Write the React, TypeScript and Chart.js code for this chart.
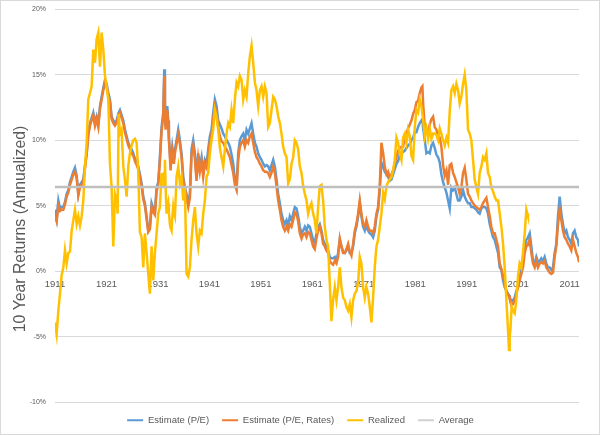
import React, { useEffect, useRef } from "react";
import { Chart, registerables } from "chart.js";

Chart.register(...registerables);

// Fractional year of each reading
const years = [
  1911.00, 1911.32, 1911.65, 1911.97, 1912.29, 1912.62, 1912.94, 1913.27, 1913.59, 1913.91,
  1914.24, 1914.56, 1914.88, 1915.21, 1915.53, 1915.85, 1916.18, 1916.50, 1916.83, 1917.15,
  1917.47, 1917.80, 1918.12, 1918.44, 1918.77, 1919.09, 1919.41, 1919.74, 1920.06, 1920.39,
  1920.71, 1921.03, 1921.36, 1921.68, 1922.00, 1922.33, 1922.65, 1922.97, 1923.17, 1923.36,
  1923.62, 1923.94, 1924.27, 1924.59, 1924.92, 1925.24, 1925.56, 1925.89, 1926.21, 1926.53,
  1926.86, 1927.18, 1927.50, 1927.83, 1928.15, 1928.47, 1928.80, 1929.12, 1929.44, 1929.77,
  1930.09, 1930.41, 1930.74, 1931.06, 1931.38, 1931.71, 1932.03, 1932.23, 1932.36, 1932.49,
  1932.68, 1932.81, 1933.00, 1933.13, 1933.33, 1933.46, 1933.65, 1933.78, 1933.97, 1934.10,
  1934.30, 1934.62, 1934.95, 1935.27, 1935.59, 1935.92, 1936.24, 1936.56, 1936.89, 1937.21,
  1937.53, 1937.86, 1938.18, 1938.50, 1938.83, 1939.15, 1939.48, 1939.80, 1940.12, 1940.45,
  1940.77, 1941.09, 1941.42, 1941.74, 1942.06, 1942.39, 1942.71, 1943.04, 1943.36, 1943.69,
  1944.01, 1944.33, 1944.66, 1944.98, 1945.30, 1945.63, 1945.95, 1946.28, 1946.60, 1946.92,
  1947.25, 1947.57, 1947.89, 1948.22, 1948.54, 1948.87, 1949.19, 1949.51, 1949.84, 1950.16,
  1950.48, 1950.81, 1951.13, 1951.45, 1951.78, 1952.10, 1952.43, 1952.75, 1953.07, 1953.40,
  1953.72, 1954.04, 1954.37, 1954.69, 1955.01, 1955.34, 1955.66, 1955.99, 1956.31, 1956.63,
  1956.96, 1957.28, 1957.60, 1957.93, 1958.25, 1958.57, 1958.90, 1959.22, 1959.55, 1959.87,
  1960.19, 1960.51, 1960.83, 1961.16, 1961.48, 1961.80, 1962.13, 1962.45, 1962.78, 1963.10,
  1963.42, 1963.75, 1964.07, 1964.39, 1964.72, 1965.04, 1965.37, 1965.69, 1966.01, 1966.34,
  1966.66, 1966.98, 1967.31, 1967.63, 1967.96, 1968.28, 1968.60, 1968.93, 1969.25, 1969.57,
  1969.90, 1970.22, 1970.54, 1970.87, 1971.19, 1971.51, 1971.84, 1972.16, 1972.49, 1972.81,
  1973.13, 1973.46, 1973.78, 1974.10, 1974.43, 1974.76, 1975.08, 1975.41, 1975.73, 1976.05,
  1976.38, 1976.70, 1977.02, 1977.35, 1977.67, 1977.99, 1978.32, 1978.64, 1978.97, 1979.29,
  1979.61, 1979.94, 1980.26, 1980.58, 1980.91, 1981.23, 1981.55, 1981.88, 1982.20, 1982.39,
  1982.53, 1982.85, 1983.17, 1983.50, 1983.82, 1984.14, 1984.47, 1984.79, 1985.11, 1985.44,
  1985.76, 1986.08, 1986.41, 1986.73, 1987.06, 1987.38, 1987.70, 1988.02, 1988.35, 1988.67,
  1988.99, 1989.32, 1989.64, 1989.96, 1990.29, 1990.61, 1990.93, 1991.26, 1991.58, 1991.90,
  1992.23, 1992.55, 1992.88, 1993.20, 1993.52, 1993.85, 1994.17, 1994.49, 1994.82, 1995.14,
  1995.47, 1995.79, 1996.12, 1996.44, 1996.76, 1997.09, 1997.41, 1997.74, 1998.06, 1998.38,
  1998.71, 1999.03, 1999.22, 1999.35, 1999.48, 1999.74, 2000.00, 2000.32, 2000.65, 2000.97,
  2001.29, 2001.62, 2001.94, 2002.27, 2002.59, 2002.78, 2002.91, 2003.24, 2003.56, 2003.88,
  2004.21, 2004.53, 2004.85, 2005.18, 2005.50, 2005.83, 2006.15, 2006.47, 2006.80, 2007.12,
  2007.44, 2007.77, 2008.09, 2008.41, 2008.74, 2009.06, 2009.39, 2009.71, 2010.03, 2010.36,
  2010.68, 2011.00, 2011.33, 2011.65, 2011.97, 2012.30, 2012.62, 2012.82,
];

// Estimate (P/E), % annualized
const peEstimate = [
  4.7, 4.0, 5.4, 4.8, 4.9, 4.9, 5.3, 5.9, 6.2, 6.8,
  7.2, 7.6, 7.9, 7.3, 5.9, 6.6, 6.8, 7.0, 8.1, 9.0,
  10.5, 11.3, 11.7, 12.1, 11.3, 11.8, 11.2, 12.6, 13.3, 14.0,
  14.6, 14.3, 13.6, 13.1, 11.8, 11.5, 11.3, 11.5, 11.8, 12.1,
  12.3, 11.9, 11.5, 10.8, 10.3, 9.8, 9.5, 9.3, 9.0, 8.6,
  8.4, 8.0, 7.4, 6.7, 5.7, 5.2, 4.2, 3.1, 3.4, 5.2,
  4.8, 4.5, 6.4, 6.8, 8.7, 11.0, 12.1, 15.4, 13.0, 11.0,
  12.0, 12.6, 11.5, 10.3, 9.0, 8.0, 9.0, 9.5, 8.9, 8.5,
  9.3, 10.0, 10.8, 10.0, 9.0, 7.2, 6.4, 5.9, 5.2, 5.9,
  9.3, 10.0, 9.0, 7.2, 9.0, 8.0, 8.7, 7.5, 8.5, 8.2,
  9.3, 10.3, 10.8, 12.1, 13.1, 12.6, 11.5, 11.2, 10.9, 10.5,
  10.3, 10.0, 9.8, 9.5, 8.9, 8.2, 7.0, 6.5, 9.0, 10.0,
  10.3, 10.5, 10.0, 10.8, 10.5, 10.9, 11.3, 10.5, 9.8, 9.5,
  9.0, 8.7, 8.5, 8.2, 8.0, 8.1, 8.0, 7.7, 8.1, 8.5,
  8.0, 7.0, 5.9, 5.2, 4.4, 3.9, 3.6, 3.9, 3.5, 4.2,
  3.9, 4.4, 4.9, 4.8, 4.2, 3.4, 2.9, 3.1, 3.4, 3.1,
  3.5, 3.4, 2.9, 2.4, 2.1, 2.9, 3.4, 3.6, 3.1, 2.4,
  2.1, 1.9, 1.6, 1.1, 1.0, 1.0, 1.1, 0.8, 1.4, 2.4,
  1.9, 1.5, 1.4, 1.6, 1.9, 1.4, 1.4, 1.9, 2.9, 3.4,
  4.2, 5.2, 4.2, 3.4, 3.1, 3.6, 3.1, 2.9, 2.8, 2.6,
  3.1, 4.2, 4.7, 6.2, 8.3, 8.0, 7.6, 7.4, 7.2, 6.9,
  7.0, 7.4, 7.8, 8.2, 8.4, 8.9, 9.0, 9.1, 9.2, 9.4,
  9.6, 9.7, 10.0, 10.2, 10.6, 10.6, 11.0, 11.3, 11.5, 11.6,
  10.9, 10.0, 9.0, 9.1, 9.0, 9.6, 9.8, 9.4, 8.9, 8.7,
  8.3, 7.4, 6.8, 6.4, 6.0, 5.4, 4.8, 6.4, 6.2, 6.4,
  5.9, 5.4, 5.4, 5.7, 6.2, 5.7, 5.4, 5.2, 5.2, 4.9,
  4.9, 4.8, 4.7, 4.5, 4.4, 4.8, 4.9, 4.9, 4.8, 4.4,
  3.6, 3.1, 2.6, 2.4, 1.9, 1.4, 0.3, 0.1, -0.7, -1.2,
  -1.5, -1.7, -1.8, -2.0, -2.1, -2.3, -2.2, -2.0, -1.5, -1.2,
  -0.4, 0.1, 0.6, 1.9, 2.4, 2.5, 2.6, 2.9, 1.9, 0.8,
  0.6, 1.1, 0.7, 0.8, 1.0, 0.8, 1.1, 0.6, 0.3, 0.3,
  0.1, 0.3, 1.4, 2.1, 4.2, 5.7, 4.4, 3.6, 2.9, 3.1,
  2.6, 2.4, 2.1, 2.9, 3.1, 2.6, 2.4, 1.9,
];

// Estimate (P/E, Rates), % annualized
const peRatesEstimate = [
  4.2, 3.8, 5.0, 4.6, 4.7, 4.7, 5.1, 5.7, 6.0, 6.6,
  7.0, 7.4, 7.6, 7.1, 5.8, 6.4, 6.6, 6.8, 7.9, 8.9,
  10.4, 11.1, 11.5, 11.9, 11.1, 11.6, 11.0, 12.4, 13.1, 13.8,
  14.4, 14.1, 13.4, 12.9, 11.6, 11.3, 11.1, 11.3, 11.6, 11.9,
  12.1, 11.7, 11.3, 10.6, 10.1, 9.6, 9.3, 9.0, 8.8, 8.4,
  8.1, 7.8, 7.2, 6.5, 5.5, 5.0, 4.0, 3.0, 3.2, 4.9,
  4.5, 4.3, 6.1, 6.6, 8.4, 10.7, 11.8, 14.9, 12.6, 10.8,
  11.7, 12.3, 11.2, 10.0, 8.7, 7.7, 8.8, 9.2, 8.6, 8.2,
  9.0, 9.7, 10.4, 9.7, 8.7, 6.9, 6.2, 5.6, 4.9, 5.6,
  8.9, 9.6, 8.6, 6.9, 8.6, 7.6, 8.4, 7.2, 8.2, 7.9,
  8.9, 9.9, 10.4, 11.6, 12.6, 12.1, 11.0, 10.3, 9.9, 9.8,
  9.5, 9.3, 9.0, 8.7, 8.1, 7.5, 6.6, 6.2, 8.5, 9.5,
  9.8, 10.0, 9.5, 10.0, 9.8, 10.3, 10.5, 9.8, 9.1, 8.7,
  8.5, 8.2, 8.0, 7.7, 7.6, 7.6, 7.5, 7.2, 7.5, 8.0,
  7.5, 6.5, 5.4, 4.7, 3.9, 3.4, 3.1, 3.4, 3.1, 3.6,
  3.4, 3.9, 4.5, 4.4, 3.8, 2.9, 2.5, 2.8, 2.9, 2.6,
  3.0, 2.9, 2.4, 1.9, 1.7, 2.5, 3.1, 3.4, 2.9, 2.1,
  1.9, 1.6, 1.4, 0.8, 0.6, 0.5, 0.8, 0.6, 1.1, 2.5,
  1.9, 1.4, 1.4, 1.7, 2.1, 1.5, 1.2, 2.1, 3.1, 3.6,
  4.4, 5.4, 4.4, 3.6, 3.4, 3.9, 3.4, 3.1, 3.1, 2.9,
  3.4, 4.4, 4.9, 6.5, 9.8, 9.0, 8.0, 7.4, 7.6, 7.1,
  7.4, 7.7, 8.2, 8.7, 9.2, 9.4, 9.5, 9.5, 10.2, 10.5,
  10.9, 11.2, 11.5, 12.0, 12.3, 12.9, 13.0, 13.6, 14.0, 14.1,
  12.8, 11.0, 10.8, 10.7, 11.2, 11.6, 11.8, 11.0, 10.8, 10.3,
  10.2, 9.5, 8.1, 7.3, 7.7, 6.6, 8.1, 8.2, 7.5, 7.2,
  6.8, 6.4, 5.9, 6.4, 7.5, 7.9, 7.0, 5.9, 5.7, 5.4,
  5.2, 5.0, 4.9, 4.8, 4.7, 4.9, 5.2, 5.4, 5.6, 4.9,
  4.2, 3.4, 2.9, 2.9, 2.4, 1.9, 0.6, 0.2, -0.4, -0.9,
  -1.5, -1.8, -1.9, -2.1, -2.2, -2.4, -2.5, -2.3, -1.7, -1.2,
  -0.7, -0.2, 0.3, 1.4, 1.9, 2.0, 2.1, 2.4, 1.4, 0.6,
  0.3, 0.8, 0.3, 0.6, 0.7, 0.6, 0.8, 0.3, 0.1, -0.1,
  -0.2, -0.1, 1.1, 1.9, 3.6, 4.7, 3.9, 3.1, 2.6, 2.4,
  2.1, 1.9, 1.6, 2.4, 1.9, 1.4, 1.1, 0.7,
];

// Realized 10-year return, % annualized (ends in 2003)
const realized = [
  -3.9, -4.8, -3.0, -1.7, -0.3, 0.3, 1.6, 0.6, 1.4, 1.5,
  3.1, 3.9, 4.7, 3.6, 4.2, 3.5, 4.2, 5.4, 8.0, 9.8,
  13.1, 13.6, 14.1, 16.9, 15.9, 17.7, 18.2, 15.6, 18.2, 16.9,
  14.9, 14.1, 13.1, 8.2, 6.4, 1.9, 5.9, 5.4, 4.4, 12.0,
  10.5, 10.8, 8.0, 7.0, 5.7, 8.0, 9.0, 9.6, 10.0, 10.1,
  9.8, 7.6, 3.0, 2.6, 0.3, 2.9, 1.4, -0.2, -1.7, 1.9,
  -0.7, 1.4, 2.9, 4.4, 4.9, 7.5, 6.4, 7.5, 8.5, 6.5,
  4.4, 4.8, 5.2, 4.5, 3.6, 3.3, 3.1, 4.0, 4.9, 4.5,
  4.2, 7.2, 8.0, 6.7, 7.2, 5.4, 6.4, -0.2, -0.4, 0.3,
  2.4, 3.9, 4.9, 2.9, 1.9, 3.1, 2.9, 4.4, 5.4, 7.2,
  7.5, 9.0, 10.0, 10.8, 12.3, 11.8, 10.8, 9.4, 8.7, 8.0,
  9.3, 10.5, 11.3, 11.0, 12.3, 11.3, 13.1, 14.4, 14.1, 14.9,
  14.6, 13.1, 13.8, 13.3, 15.1, 16.4, 17.2, 15.9, 14.4, 13.8,
  12.6, 13.8, 14.1, 13.3, 14.1, 13.6, 11.0, 11.3, 12.3, 13.3,
  13.1, 12.6, 11.8, 11.3, 10.5, 9.5, 9.0, 8.7, 6.7, 7.0,
  8.2, 8.7, 10.0, 9.8, 9.3, 8.0, 7.5, 6.5, 5.9, 5.4,
  4.4, 4.9, 5.2, 4.4, 3.9, 2.9, 4.9, 6.5, 6.6, 5.4,
  3.4, 2.4, 1.9, -0.9, -3.8, -2.2, -1.2, -2.2, -1.2, 0.3,
  -1.2, -2.0, -2.2, -2.7, -3.0, -2.5, -3.5, -2.2, -1.7, -1.5,
  -0.9, 1.1, 0.6, -1.2, -2.0, -1.2, -1.7, -2.7, -3.9, -2.0,
  0.3, 1.9, 2.4, 3.4, 4.4, 6.0, 5.5, 6.5, 6.8, 7.0,
  7.2, 7.7, 8.5, 10.2, 9.8, 9.0, 8.5, 10.2, 10.5, 9.8,
  10.8, 10.3, 8.8, 8.5, 11.0, 12.3, 12.1, 13.1, 12.6, 12.0,
  11.6, 10.3, 10.9, 10.1, 10.9, 10.1, 10.5, 10.5, 10.4, 10.0,
  10.9, 10.5, 10.0, 9.6, 10.2, 9.8, 12.2, 13.8, 14.1, 13.6,
  14.3, 13.8, 12.8, 13.3, 14.3, 15.0, 13.8, 10.8, 10.5, 10.0,
  8.5, 7.0, 6.4, 5.9, 7.5, 8.0, 8.7, 8.5, 9.0, 7.5,
  7.2, 6.4, 6.1, 5.7, 5.4, 5.4, 4.4, 3.4, 2.1, 0.3,
  -2.2, -4.5, -6.0, -5.0, -4.5, -2.7, -3.0, -3.2, -2.2, -0.4,
  0.6, 0.3, 1.4, 2.9, 4.7, 4.4, 4.2, null, null, null,
  null, null, null, null, null, null, null, null, null, null,
  null, null, null, null, null, null, null, null, null, null,
  null, null, null, null, null, null, null, null,
];

const averageReturn = 6.42;
const xTickYears = [1911, 1921, 1931, 1941, 1951, 1961, 1971, 1981, 1991, 2001, 2011];
const seriesLabels = ["Estimate (P/E)", "Estimate (P/E, Rates)", "Realized", "Average"];
const seriesColors = ["#5B9BD5", "#ED7D31", "#FFC000", "#BFBFBF"];
const yAxisTitle = "10 Year Returns (Annualized)";

const FONT = "'Liberation Sans', Arial, sans-serif";

export default function App() {
  const canvasRef = useRef<HTMLCanvasElement | null>(null);

  useEffect(() => {
    document.body.style.margin = "0";
    const canvas = canvasRef.current;
    if (!canvas) return;
    const xMin = years[0];
    const xMax = years[years.length - 1];

    const toPoints = (vals: (number | null)[]) =>
      years.map((x, i) => ({ x, y: vals[i] }));

    const decorPlugin = {
      id: "decor",
      afterDraw(chart: any) {
        const ctx = chart.ctx;
        ctx.save();
        ctx.strokeStyle = "#D9D9D9";
        ctx.lineWidth = 1;
        ctx.strokeRect(0.5, 0.5, chart.width - 1, chart.height - 1);
        // vertical y-axis title
        ctx.translate(21, 229);
        ctx.rotate(-Math.PI / 2);
        ctx.font = `15.8px ${FONT}`;
        ctx.fillStyle = "#595959";
        ctx.textAlign = "center";
        ctx.textBaseline = "middle";
        ctx.fillText(yAxisTitle, 0, 0);
        ctx.restore();
      },
    };

    const chart = new Chart(canvas, {
      type: "line",
      data: {
        datasets: [
          {
            label: seriesLabels[0],
            data: toPoints(peEstimate),
            borderColor: seriesColors[0],
            backgroundColor: seriesColors[0],
            borderWidth: 2.5,
            pointRadius: 0,
            order: 4,
          },
          {
            label: seriesLabels[1],
            data: toPoints(peRatesEstimate),
            borderColor: seriesColors[1],
            backgroundColor: seriesColors[1],
            borderWidth: 2.5,
            pointRadius: 0,
            order: 3,
          },
          {
            label: seriesLabels[2],
            data: toPoints(realized),
            borderColor: seriesColors[2],
            backgroundColor: seriesColors[2],
            borderWidth: 2.5,
            pointRadius: 0,
            order: 2,
          },
          {
            label: seriesLabels[3],
            data: [
              { x: xMin, y: averageReturn },
              { x: xMax, y: averageReturn },
            ],
            borderColor: seriesColors[3],
            backgroundColor: "#D0D0D0",
            borderWidth: 2.5,
            pointRadius: 0,
            order: 1,
          },
        ],
      },
      options: {
        responsive: false,
        animation: false,
        layout: { padding: { left: 22, right: 21, top: 9, bottom: 0 } },
        plugins: {
          tooltip: { enabled: false },
          legend: {
            position: "bottom",
            labels: {
              font: { family: FONT, size: 9.5 },
              color: "#595959",
              boxWidth: 16,
              boxHeight: 2,
              padding: 13,
              sort: (a: any, b: any) => a.datasetIndex - b.datasetIndex,
              generateLabels: (c: any) =>
                Chart.defaults.plugins.legend.labels
                  .generateLabels(c)
                  .map((l: any) => ({ ...l, lineWidth: 0 })),
            },
          },
        },
        scales: {
          x: {
            type: "linear",
            min: xMin,
            max: xMax,
            position: { y: 0 } as any,
            afterBuildTicks: (scale: any) => {
              scale.ticks = xTickYears.map((v) => ({ value: v }));
            },
            ticks: {
              callback: (v: any) => String(v),
              font: { family: FONT, size: 9.5 },
              color: "#595959",
              padding: 7,
              maxRotation: 0,
              autoSkip: false,
            },
            grid: { display: false, drawTicks: false },
            border: { display: false },
          },
          y: {
            type: "linear",
            min: -10,
            max: 20,
            afterFit: (scale: any) => {
              scale.width = 33;
              scale.paddingTop = 0;
              scale.paddingBottom = 0;
            },
            ticks: {
              stepSize: 5,
              callback: (v: any) => v + "%",
              font: { family: FONT, size: 7 },
              color: "#595959",
              padding: 9,
            },
            grid: { color: "#D9D9D9", drawTicks: false, lineWidth: 1 },
            border: { display: false },
          },
        },
      },
      plugins: [decorPlugin],
    } as any);

    return () => chart.destroy();
  }, []);

  return (
    <div style={{ width: 600, height: 435, background: "#fff" }}>
      <canvas ref={canvasRef} width={600} height={435} />
    </div>
  );
}
